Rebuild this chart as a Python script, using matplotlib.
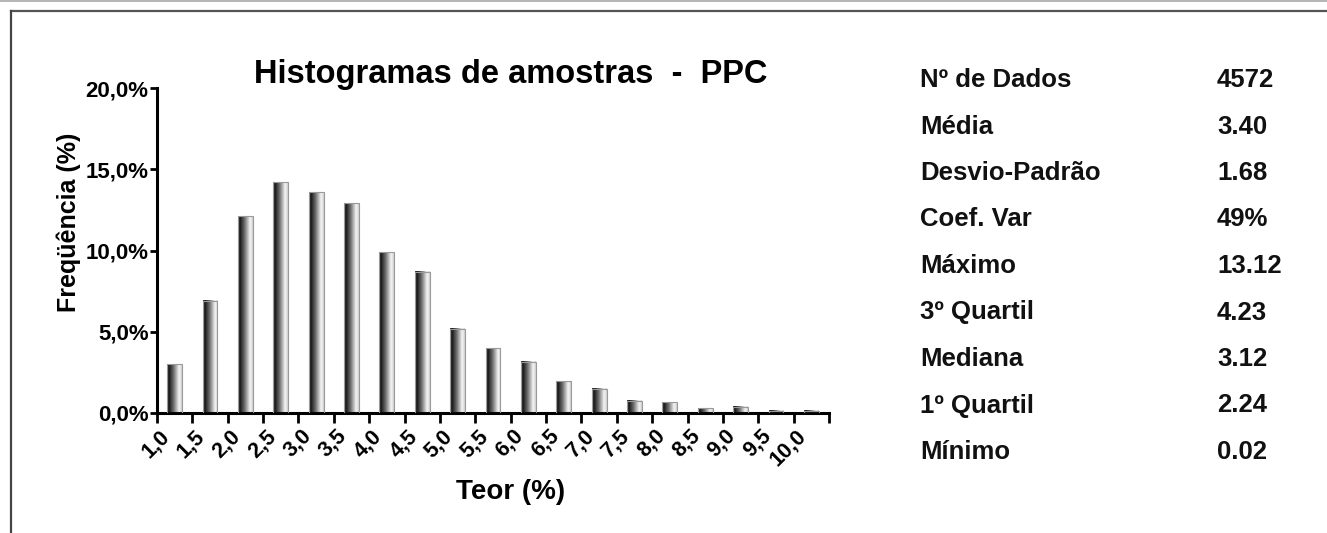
import matplotlib
matplotlib.use("Agg")
import matplotlib.pyplot as plt
import numpy as np
from matplotlib.colors import LinearSegmentedColormap
from matplotlib.lines import Line2D
from matplotlib.transforms import ScaledTranslation

plt.rcParams['font.family'] = ['Liberation Sans', 'DejaVu Sans']
plt.rcParams['font.weight'] = 'bold'

# ---- data ----
bin_labels = ["1,0", "1,5", "2,0", "2,5", "3,0", "3,5", "4,0", "4,5", "5,0", "5,5",
              "6,0", "6,5", "7,0", "7,5", "8,0", "8,5", "9,0", "9,5", "10,0"]
freq_pct = [3.0, 6.9, 12.1, 14.2, 13.6, 12.9, 9.9, 8.7, 5.2, 4.0,
            3.15, 1.95, 1.5, 0.75, 0.65, 0.3, 0.4, 0.15, 0.15]
y_ticks = [0, 5, 10, 15, 20]

stat_names = ["Nº de Dados", "Média", "Desvio-Padrão", "Coef. Var", "Máximo",
              "3º Quartil", "Mediana", "1º Quartil", "Mínimo"]
stat_values = ["4572", "3.40", "1.68", "49%", "13.12", "4.23", "3.12", "2.24", "0.02"]

title = "Histogramas de amostras  -  PPC"
xlabel = "Teor (%)"
ylabel = "Freqüência (%)"

W, H = 1327, 533
fig = plt.figure(figsize=(W / 100, H / 100), dpi=100)
fig.patch.set_facecolor("white")

def fx(px):
    return px / W

def fy(py):
    return 1 - py / H

# frame lines
fig.add_artist(Line2D([0, 1], [fy(0.8), fy(0.8)], color="#a8a8a8", lw=1.2, transform=fig.transFigure))
fig.add_artist(Line2D([fx(10.5), 1], [fy(10.5), fy(10.5)], color="#555555", lw=1.6, transform=fig.transFigure))
fig.add_artist(Line2D([fx(10.5), fx(10.5)], [fy(10.5), 0], color="#444444", lw=1.6, transform=fig.transFigure))

left, right, top, bottom = 157, 829, 88, 413
ax = fig.add_axes([fx(left), fy(bottom), fx(right - left), (bottom - top) / H])

n = len(freq_pct)
xpos = np.arange(n) + 0.5
bars = ax.bar(xpos, freq_pct, width=0.42, facecolor="none", edgecolor="#9a9a9a", linewidth=0.8, zorder=3)

cmap = LinearSegmentedColormap.from_list("g", [(0.0, "#505050"), (0.12, "#151515"),
                                                (0.45, "#707070"), (0.82, "#f6f6f6"),
                                                (1.0, "#d0d0d0")])
grad = np.linspace(0, 1, 64).reshape(1, -1)
for p in bars.patches:
    x0, y0 = p.get_x(), p.get_y()
    ax.imshow(grad, extent=[x0, x0 + p.get_width(), y0, y0 + p.get_height()],
              cmap=cmap, aspect="auto", zorder=2, interpolation="bilinear")

ax.set_xlim(0, n)
ax.set_ylim(0, 20)
ax.set_aspect("auto")

for s in ["top", "right"]:
    ax.spines[s].set_visible(False)
for s in ["left", "bottom"]:
    ax.spines[s].set_linewidth(2.2)
    ax.spines[s].set_color("black")

ax.set_yticks(y_ticks)
ax.set_yticklabels([f"{v:.1f}".replace(".", ",") + "%" for v in y_ticks], fontsize=16, fontweight="bold")
ax.tick_params(axis="y", direction="out", length=5, width=2, pad=1)

ax.set_xticks(np.arange(n + 1))
ax.set_xticklabels(bin_labels + [""], fontsize=15.5, fontweight="bold", rotation=45,
                   ha="right", va="top", rotation_mode="default")
ax.tick_params(axis="x", direction="out", length=7, width=2, pad=2)
off = ScaledTranslation(17 / 100, 0, fig.dpi_scale_trans)
for lab in ax.get_xticklabels():
    lab.set_transform(lab.get_transform() + off)

# titles and labels
fig.text(fx(511), fy(83), title, fontsize=23.5, fontweight="bold", ha="center", va="baseline")
fig.text(fx(511), fy(492), xlabel, fontsize=20, fontweight="bold", ha="center", va="center")
fig.text(fx(69), fy(222), ylabel, fontsize=18, fontweight="bold", ha="center", va="center", rotation=90)

# statistics table
row0, dy = 80, 46.5
for i, (nm, val) in enumerate(zip(stat_names, stat_values)):
    y = fy(row0 + i * dy)
    fig.text(fx(920), y, nm, fontsize=18.5, fontweight="bold", ha="left", va="center", color="#111111")
    fig.text(fx(1217), y, val, fontsize=18.5, fontweight="bold", ha="left", va="center", color="#111111")

fig.savefig("out.png", dpi=100, facecolor="white")
